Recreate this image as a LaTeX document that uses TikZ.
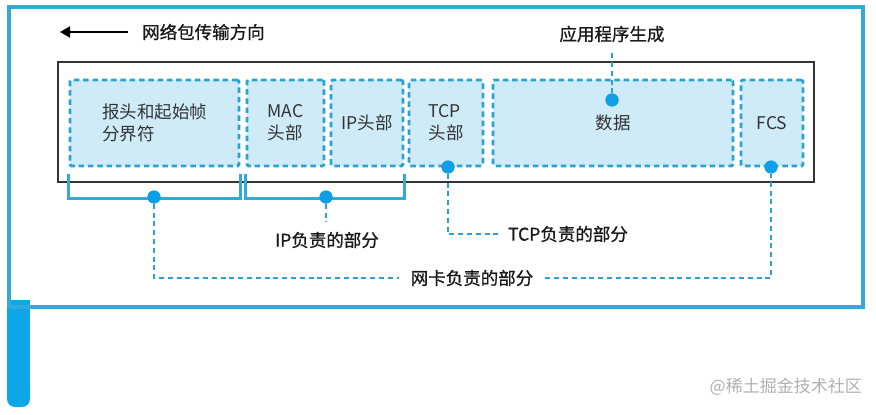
\documentclass[tikz,border=0pt]{standalone}
\usepackage{fontspec}
\setmainfont{Noto Sans CJK SC}
\newfontfamily\lblfont[FakeBold=0.9]{Noto Sans CJK SC}
\usetikzlibrary{arrows.meta,calc}
\definecolor{frameblue}{HTML}{33A9D9}
\definecolor{barblue}{HTML}{0DA6E8}
\definecolor{boxfill}{HTML}{CFEBF7}
\definecolor{dashblue}{HTML}{2AA3D2}
\definecolor{dotblue}{HTML}{0E9FE6}
\definecolor{wmgray}{HTML}{B0B0B0}
\tikzset{
  pbox/.style={draw=dashblue, fill=boxfill, line width=2.9pt, dash pattern=on 5.5pt off 3.8pt, rounded corners=1.5pt, minimum height=86pt, inner sep=0pt},
  boxtext/.style={font=\fontsize{17.5}{22}\selectfont, text=black!80, align=left, inner sep=0pt},
  lbl/.style={font=\lblfont\fontsize{17.5}{22}\selectfont, text=black!90, inner ysep=0pt},
  bracket/.style={draw=frameblue, line width=3pt},
  conn/.style={draw=dashblue, line width=2.9pt, dash pattern=on 5pt off 3.8pt},
  pdot/.style={circle, fill=dotblue, minimum size=13pt, inner sep=0pt},
  arrowline/.style={draw=black, line width=2pt, -{Triangle[length=10pt,width=11pt]}}
}
\begin{document}
\begin{tikzpicture}[x=1pt,y=-1pt]
\useasboundingbox (0,0) rectangle (876,415);
% left bar and frame
\fill[barblue] (7,300) rectangle (30,395);
\fill[barblue, rounded corners=8pt] (7,380) rectangle (30,407);
\draw[frameblue, line width=3.3pt] (9,7) rectangle (863,307);
% title arrow
\node[lbl, anchor=west, inner xsep=0pt] (title) at (142,32) {网络包传输方向};
\coordinate (arrtip) at (60,32);
\draw[arrowline] ($(title.west)+(-14,0)$) -- (arrtip);
% application label
\node[lbl] (app) at (612,34) {应用程序生成};
\coordinate (append) at (612,51);
% packet rectangle
\draw[black!80, line width=1.4pt] (58,62) rectangle (814,182);
% boxes
\node[pbox, minimum width=169pt] (b1) at (154.5,123) {};
\node[pbox, minimum width=77pt] (b2) at (285.5,123) {};
\node[pbox, minimum width=72pt] (b3) at (367,123) {};
\node[pbox, minimum width=74pt] (b4) at (446,123) {};
\node[pbox, minimum width=240pt] (b5) at (613,123) {};
\node[pbox, minimum width=62pt] (b6) at (772,123) {};
\node[boxtext] (t1) at (b1) {报头和起始帧\\分界符};
\node[boxtext] (t2) at (b2) {MAC\\头部};
\node[boxtext] (t3) at (b3) {IP头部};
\node[boxtext] (t4) at (b4) {TCP\\头部};
\node[boxtext] (t5) at (b5) {数据};
\node[boxtext] (t6) at (b6) {FCS};
% brackets
\draw[bracket] ($(b1.south west)+(0,7)$) -- ($(b1.south west)+(0,31)$) -- ($(b1.south east)+(0,31)$) -- ($(b1.south east)+(0,7)$);
\draw[bracket] ($(b2.south west)+(0,7)$) -- ($(b2.south west)+(0,31)$) -- ($(b3.south east)+(0,31)$) -- ($(b3.south east)+(0,7)$);
% labels
\node[lbl, inner xsep=0pt] (ip) at (327,240) {IP负责的部分};
\coordinate (ipend) at (326,222);
\node[lbl, inner xsep=8pt] (tcp) at (568,234) {TCP负责的部分};
\node[lbl, inner xsep=12pt] (nk) at (472,278) {网卡负责的部分};
% dots
\node[pdot] (d1) at (154,197) {};
\node[pdot] (d2) at (326,197) {};
\node[pdot] (d4) at (448,167) {};
\node[pdot] (d5) at (612,100) {};
\node[pdot] (d6) at (771,167) {};
% connectors
\draw[conn] (d1) |- (nk.west);
\draw[conn] (nk.east) -| (d6);
\draw[conn] (d2) -- (ipend);
\draw[conn] (d4) |- (tcp.west);
\draw[conn] (d5) -- (append);
% redraw dots on top
\foreach \d in {d1,d2,d4,d5,d6} {\fill[dotblue] (\d) circle (6.5pt);}
% watermark
\node[font=\fontsize{17}{20}\selectfont, text=wmgray, anchor=east, inner sep=0pt] (wm) at (862,387) {@稀土掘金技术社区};
\end{tikzpicture}
\end{document}
